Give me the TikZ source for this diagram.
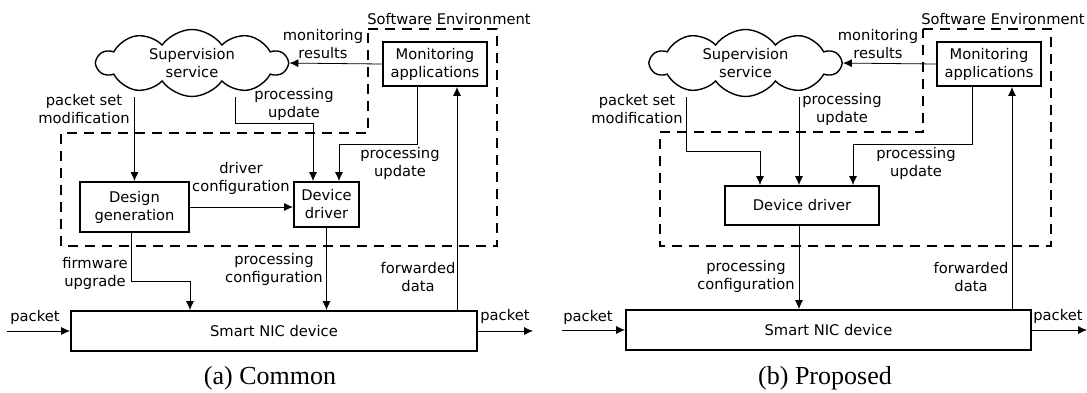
\documentclass[tikz,border=0pt]{standalone}
\usepackage{fontspec}
\setmainfont{Liberation Serif}
\setsansfont{DejaVu Sans}
\usetikzlibrary{arrows.meta,positioning,backgrounds,shapes.symbols}

\begin{document}
\begin{tikzpicture}
[x=1pt, y=-1pt, font=\sffamily\fontsize{14.7}{18}\selectfont,
% STYLES
% The box style is used for the blocks of both designs
box/.style={rectangle, draw, line width=1.9pt, inner sep=0pt, align=center},
% The supervision style draws the cloud of the supervision service
supervision/.style={cloud, draw, fill=white, cloud puffs=10, cloud puff arc=110, aspect=2.8, line width=1.4pt, inner sep=0pt, minimum width=190pt, minimum height=67pt, align=center},
% The lbl style is used for the texts next to the links
lbl/.style={align=center, inner sep=0pt},
flow/.style={-{Latex[length=9pt,width=8pt]}, line width=0.8pt},
region/.style={dash pattern=on 10pt off 7pt, line width=1.8pt},
caption/.style={font=\rmfamily\fontsize{26}{30}\selectfont}]

\useasboundingbox (0,0) rectangle (1087,392);

%%%%%%%%%%%%%%%
% (a) Common

% Draw blocks
\node [supervision] (supA) at (192,63) {Supervision\\service};
\node [box, minimum width=104pt, minimum height=44pt] (monA) at (435,64) {Monitoring\\applications};
\node [box, minimum width=109pt, minimum height=50pt] (desA) at (134.5,207) {Design\\generation};
\node [box, minimum width=65pt, minimum height=45pt] (drvA) at (326.5,204.5) {Device\\driver};
\node [box, minimum width=406pt, minimum height=40pt] (nicA) at (274,331) {Smart NIC device};
\node [lbl] (envA) at (449,19) {Software Environment};
\coordinate (inA) at (7,331);
\coordinate (outA) at (533,331);

% Software environment
\draw [region] (368,29) -- (497,29) -- (497,246) -- (61,246) -- (61,133) -- (368,133) -- cycle;

% Link texts
\node [lbl] (resA) at (323,44) {monitoring\\results};
\node [lbl] (setA) at (84,109) {packet set\\modification};
\node [lbl] (updA) at (294,104) {processing\\update};
\node [lbl] (updA2) at (400,163) {processing\\update};
\node [lbl] (cfgA) at (241,178) {driver\\configuration};
\node [lbl] (fwA) at (95,273) {firmware\\upgrade};
\node [lbl] (pcfgA) at (274,269) {processing\\configuration};
\node [lbl] (fwdA) at (418,277) {forwarded\\data};
\node [lbl] (pinA) at (35,317) {packet};
\node [lbl] (poutA) at (505,316) {packet};
\node [caption] (capA) at (270,378) {(a) Common};

% Draw the links
\begin{scope}[on background layer]
\draw [flow] (monA.west) -- (supA.east);
\draw [flow] (desA.north |- supA.south) -- (desA.north);
\draw [flow] ([xshift=43pt]supA.south) -- ++(0,26) -| ([xshift=-13.5pt]drvA.north);
\draw [flow] ([xshift=-18pt]monA.south) -- ++(0,57) -| ([xshift=12.5pt]drvA.north);
\draw [flow] (desA.east) -- (desA.east -| drvA.west);
\draw [flow] ([xshift=-3.5pt]desA.south) -- ++(0,48) -| ([xshift=-84pt]nicA.north);
\draw [flow] (drvA.south) -- (drvA.south |- nicA.north);
\draw [flow] ([xshift=22pt]monA.south |- nicA.north) -- ([xshift=22pt]monA.south);
\draw [flow] (inA) -- (nicA.west);
\draw [flow] (nicA.east) -- (outA);
\end{scope}

%%%%%%%%%%%%%%%
% (b) Proposed

% Draw blocks
\node [supervision] (supB) at (745.5,63) {Supervision\\service};
\node [box, minimum width=104pt, minimum height=44pt] (monB) at (989,64) {Monitoring\\applications};
\node [box, minimum width=154pt, minimum height=39pt] (drvB) at (802,205.5) {Device driver};
\node [box, minimum width=405pt, minimum height=40pt] (nicB) at (828.5,330) {Smart NIC device};
\node [lbl] (envB) at (1003,19) {Software Environment};
\coordinate (inB) at (562,330);
\coordinate (outB) at (1087,330);

% Software environment
\draw [region] (923,29) -- (1051,29) -- (1051,246) -- (660,246) -- (660,132) -- (923,132) -- cycle;

% Link texts
\node [lbl] (resB) at (878,44) {monitoring\\results};
\node [lbl] (setB) at (637,109) {packet set\\modification};
\node [lbl] (updB) at (842,109) {processing\\update};
\node [lbl] (updB2) at (916,163) {processing\\update};
\node [lbl] (pcfgB) at (746,276) {processing\\configuration};
\node [lbl] (fwdB) at (971,277) {forwarded\\data};
\node [lbl] (pinB) at (588,317) {packet};
\node [lbl] (poutB) at (1058,316) {packet};
\node [caption] (capB) at (825,378) {(b) Proposed};

% Draw the links
\begin{scope}[on background layer]
\draw [flow] (monB.west) -- (supB.east);
\draw [flow] ([xshift=-59.5pt]supB.south) -- ++(0,54) -| ([xshift=-42pt]drvB.north);
\draw [flow] ([xshift=-3pt]drvB.north |- supB.south) -- ([xshift=-3pt]drvB.north);
\draw [flow] ([xshift=-17pt]monB.south) -- ++(0,57) -| ([xshift=51pt]drvB.north);
\draw [flow] ([xshift=-3pt]drvB.south) -- ([xshift=-3pt]drvB.south |- nicB.north);
\draw [flow] ([xshift=23pt]monB.south |- nicB.north) -- ([xshift=23pt]monB.south);
\draw [flow] (inB) -- (nicB.west);
\draw [flow] (nicB.east) -- (outB);
\end{scope}

\end{tikzpicture}
\end{document}
